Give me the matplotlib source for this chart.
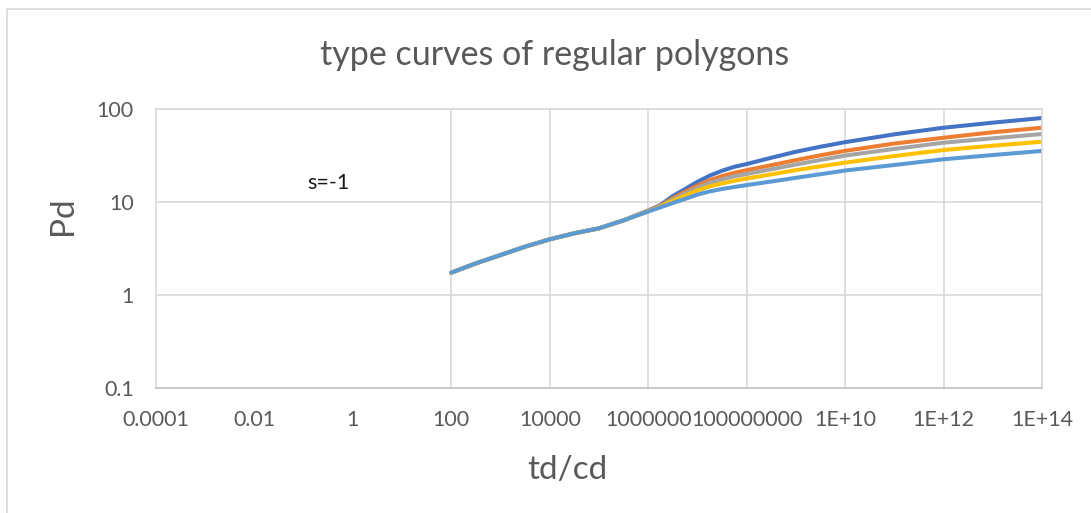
import matplotlib
matplotlib.use("Agg")
import matplotlib.pyplot as plt
from matplotlib.patches import Rectangle

plt.rcParams['font.family'] = ['Lato', 'DejaVu Sans']

# dimensionless time (td/cd) for every curve
td = [1e2, 3.162e2, 1e3, 3.162e3, 1e4, 3.162e4, 1e5, 3.162e5,
      1e6, 1.778e6, 3.162e6, 5.623e6, 1e7, 1.778e7, 3.162e7, 5.623e7,
      1e8, 3.162e8, 1e9, 3.162e9, 1e10, 1e11, 1e12, 1e13, 1e14]

# early-time part is the same for all polygons
early = [1.74, 2.19, 2.69, 3.31, 3.97, 4.61, 5.21, 6.35]

pd_blue = early + [8.1, 9.3, 11.6, 13.8, 16.5, 19.2, 21.7, 23.9,
                   25.6, 29.9, 34.7, 39.3, 44.0, 53.4, 62.9, 71.3, 80.0]
pd_orange = early + [8.05, 9.14, 11.0, 12.9, 15.0, 17.1, 19.0, 20.6,
                     22.0, 24.9, 28.2, 31.8, 35.5, 42.5, 49.1, 56.2, 62.9]
pd_gray = early + [8.0, 9.04, 10.7, 12.3, 14.2, 16.0, 17.5, 18.9,
                   20.0, 22.5, 25.3, 28.3, 31.6, 37.2, 43.4, 48.4, 53.8]
pd_yellow = early + [7.95, 8.93, 10.3, 11.7, 13.3, 14.7, 15.8, 16.9,
                     17.9, 19.8, 22.0, 24.2, 26.5, 31.2, 36.2, 40.3, 44.5]
pd_ltblue = early + [7.9, 8.77, 9.75, 10.8, 12.0, 13.0, 13.8, 14.5,
                     15.2, 16.6, 18.2, 19.9, 21.8, 25.0, 28.8, 32.0, 35.4]

series = [pd_blue, pd_orange, pd_gray, pd_yellow, pd_ltblue]
colors = ['#4472C4', '#ED7D31', '#A5A5A5', '#FFC000', '#5B9BD5']

xticks = [1e-4, 1e-2, 1, 1e2, 1e4, 1e6, 1e8, 1e10, 1e12, 1e14]
xlabels = ['0.0001', '0.01', '1', '100', '10000', '1000000', '100000000',
           '1E+10', '1E+12', '1E+14']
xgrid = [1e2, 1e4, 1e6, 1e8, 1e10, 1e12, 1e14]
yticks = [0.1, 1, 10, 100]
ylabels = ['0.1', '1', '10', '100']

txt = '#595959'
gridc = '#D9D9D9'

fig = plt.figure(figsize=(10.91, 5.13), dpi=100)
fig.patches.append(Rectangle((7 / 1091, -0.1), 2, (513 - 9) / 513 + 0.1,
                             transform=fig.transFigure, fill=False,
                             edgecolor=gridc, lw=1.2))
ax = fig.add_axes([156 / 1091, 1 - 388 / 513, (1042 - 156) / 1091, (388 - 109) / 513])

for yv, c in zip(series, colors):
    ax.plot(td, yv, color=c, lw=2.9, solid_capstyle='round', solid_joinstyle='round')

ax.set_xscale('log')
ax.set_yscale('log')
ax.set_xlim(1e-4, 1e14)
ax.set_ylim(0.1, 100)

ax.set_xticks(xticks)
ax.set_xticklabels(xlabels)
ax.set_yticks(yticks)
ax.set_yticklabels(ylabels)
ax.minorticks_off()
ax.tick_params(length=0, labelsize=15.4, colors=txt)
ax.tick_params(axis='x', pad=16)
ax.tick_params(axis='y', pad=16)

for v in xgrid:
    ax.axvline(v, color=gridc, lw=1.2, zorder=0)
for v in yticks[1:]:
    ax.axhline(v, color=gridc, lw=1.2, zorder=0)

for s in ['top', 'right', 'left']:
    ax.spines[s].set_color(gridc)
    ax.spines[s].set_linewidth(1.2)
ax.spines['bottom'].set_color('#BFBFBF')
ax.spines['bottom'].set_linewidth(1.2)

# axis titles sit relative to the whole chart box, not the plot area
fig.text(567 / 1091, 1 - 470 / 513, 'td/cd', fontsize=24, color=txt,
         ha='center', va='center')
fig.text(63 / 1091, 1 - 216 / 513, 'Pd', fontsize=24, color=txt,
         ha='center', va='center', rotation=90)
fig.text(555 / 1091, 1 - 55 / 513, 'type curves of regular polygons',
         fontsize=24.5, color=txt, ha='center', va='center')
ax.text(0.195, 0.735, 's=-1', transform=ax.transAxes, fontsize=15.5,
        color='#1a1a1a', ha='center', va='center')

fig.savefig('out.png', dpi=100)
